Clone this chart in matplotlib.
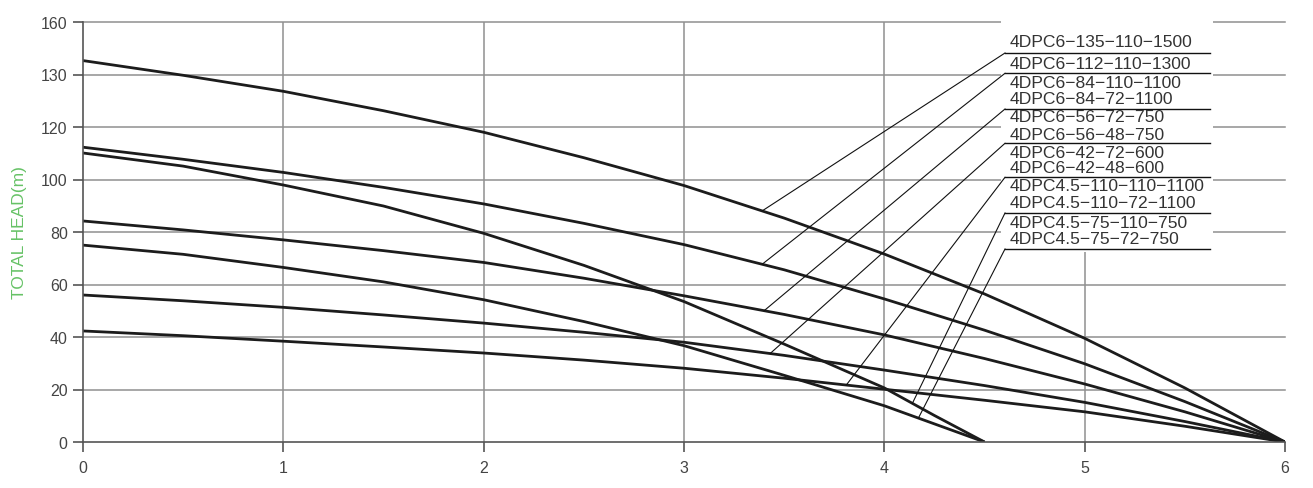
import numpy as np
import matplotlib
matplotlib.use("Agg")
import matplotlib.pyplot as plt

plt.rcParams['font.family'] = ['Liberation Sans', 'DejaVu Sans']

# ---------------- data ----------------
flow_q = [0, 0.5, 1, 1.5, 2, 2.5, 3, 3.5, 4, 4.5, 5, 5.5, 6]
flow_q45 = [0, 0.5, 1, 1.5, 2, 2.5, 3, 3.5, 4, 4.25, 4.5]

head_6_135 = [145.3, 139.7, 133.6, 126.2, 118.0, 108.3, 97.7, 85.3, 71.6, 56.4, 39.5, 20.6, 0]
head_6_112 = [112.3, 107.7, 102.7, 97.0, 90.7, 83.3, 75.2, 65.6, 54.5, 42.6, 29.8, 15.4, 0]
head_6_84 = [84.2, 80.8, 77.0, 72.9, 68.4, 62.4, 55.7, 48.6, 40.8, 31.8, 22.1, 11.5, 0]
head_6_56 = [56.0, 53.8, 51.3, 48.4, 45.3, 41.8, 38.0, 33.0, 27.4, 21.5, 15.1, 7.8, 0]
head_6_42 = [42.3, 40.5, 38.4, 36.2, 33.9, 31.2, 28.1, 24.3, 20.1, 15.9, 11.5, 6.0, 0]
head_45_110 = [110.1, 105.1, 97.9, 89.9, 79.5, 67.3, 53.5, 37.3, 20.6, 10.1, 0]
head_45_75 = [75.0, 71.5, 66.5, 61.0, 54.2, 45.9, 36.7, 25.4, 13.8, 6.9, 0]

y_tick_values = [0, 20, 40, 60, 80, 100, 120, 140, 160]
y_tick_labels = ["0", "20", "40", "60", "80", "100", "120", "130", "160"]
x_tick_values = [0, 1, 2, 3, 4, 5, 6]

model_labels = [
    "4DPC6-135-110-1500",
    "4DPC6-112-110-1300",
    "4DPC6-84-110-1100",
    "4DPC6-84-72-1100",
    "4DPC6-56-72-750",
    "4DPC6-56-48-750",
    "4DPC6-42-72-600",
    "4DPC6-42-48-600",
    "4DPC4.5-110-110-1100",
    "4DPC4.5-110-72-1100",
    "4DPC4.5-75-110-750",
    "4DPC4.5-75-72-750",
]

# ---------------- figure ----------------
W, H = 1313, 489
fig = plt.figure(figsize=(W / 100, H / 100), dpi=100)
ax_left, ax_right, ax_top, ax_bot = 83, 1285, 23, 443
ax = fig.add_axes([ax_left / W, (H - ax_bot) / H, (ax_right - ax_left) / W, (ax_bot - ax_top) / H])
ax.set_xlim(0, 6)
ax.set_ylim(0, 160)

def px_to_data(px, py):
    x = (px - ax_left) / (ax_right - ax_left) * 6
    y = (ax_bot - py) / (ax_bot - ax_top) * 160
    return x, y

grid_color = "#8f8f8f"
for v in y_tick_values[1:]:
    ax.axhline(v, color=grid_color, lw=1.1, zorder=0, clip_on=False)
for v in x_tick_values[1:-1]:
    ax.axvline(v, color=grid_color, lw=1.1, zorder=0)

# white panel behind the model labels
x0, y0 = px_to_data(1001, 253)
x1, y1 = px_to_data(1213, 20)
ax.add_patch(plt.Rectangle((x0, y0), x1 - x0, y1 - y0, facecolor="white",
                           edgecolor="none", zorder=1, clip_on=False))

curve_kw = dict(color="#1c1c1c", lw=2.0, zorder=2, solid_capstyle="butt",
                solid_joinstyle="round")
curves = [
    (flow_q, head_6_135),
    (flow_q, head_6_112),
    (flow_q, head_6_84),
    (flow_q, head_6_56),
    (flow_q, head_6_42),
    (flow_q45, head_45_110),
    (flow_q45, head_45_75),
]
for q, h in curves:
    ax.plot(q, h, **curve_kw)

# leader lines: (curve index, flow where leader touches the curve, underline pixel y)
leaders = [
    (0, 3.39, 54),
    (1, 3.39, 74.3),
    (2, 3.40, 110),
    (3, 3.43, 144.3),
    (4, 3.81, 178.3),
    (5, 4.14, 214),
    (6, 4.17, 250),
]
ux0, _ = px_to_data(1005, 0)
ux1, _ = px_to_data(1210, 0)
for ci, qa, upy in leaders:
    q, h = curves[ci]
    ha = float(np.interp(qa, q, h))
    _, uy = px_to_data(0, upy)
    ax.plot([qa, ux0], [ha, uy], color="#111111", lw=0.8, zorder=3, clip_on=False)
    ax.plot([ux0, ux1], [uy, uy], color="#111111", lw=1.0, zorder=3, clip_on=False)

label_py = [43, 65, 84, 100, 118, 135.7, 154, 168.5, 186.7, 203.3, 223.3, 240]
tx, _ = px_to_data(1010, 0)
for lab, py in zip(model_labels, label_py):
    _, ty = px_to_data(0, py)
    ax.text(tx, ty, lab.replace("-", "\u2212"), fontsize=12.6, color="#333333",
            va="center", ha="left", zorder=4, clip_on=False)

# axes styling
for s in ["top", "right"]:
    ax.spines[s].set_visible(False)
for s in ["left", "bottom"]:
    ax.spines[s].set_color("#555555")
    ax.spines[s].set_linewidth(1.2)
ax.set_yticks(y_tick_values)
ax.set_yticklabels(y_tick_labels)
ax.set_xticks(x_tick_values)
ax.set_xticklabels([str(v) for v in x_tick_values])
ax.tick_params(axis="both", colors="#555555", labelcolor="#444444", labelsize=11.5,
               length=7, width=1.2, direction="out")
ax.tick_params(axis="y", pad=4)
ax.tick_params(axis="x", pad=6)

ax.set_ylabel("TOTAL HEAD(m)", color="#66c266", fontsize=12.5, labelpad=10)
fig.text((ax_left + ax_right) / 2 / W + 0.018, -0.012, "FLOW(m\u00b3/h)", color="#66c266",
         fontsize=11, ha="center", va="top")

fig.savefig("out.png", dpi=100)
